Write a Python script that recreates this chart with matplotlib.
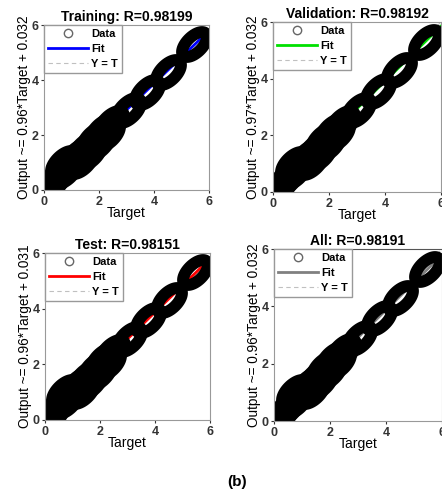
import numpy as np
import matplotlib.pyplot as plt
from matplotlib.path import Path
from matplotlib.lines import Line2D

plt.rcParams['font.family'] = ['Liberation Sans', 'DejaVu Sans']
plt.rcParams['font.weight'] = 'bold'

# (all four panels look the same)
target = [0.05, 0.25, 0.45, 0.7, 0.75, 1.0, 1.2, 1.35, 1.5, 1.65, 1.8, 1.95,
          2.1, 2.3, 2.45,
          3.05, 3.75, 4.5, 5.45]
output = [0.05, 0.22, 0.45, 1.0, 0.7, 0.95, 1.25, 1.05, 1.5, 1.35, 1.85, 1.7,
          2.15, 2.05, 2.45,
          2.9, 3.58, 4.3, 5.3]

titles = ['Training: R=0.98199', 'Validation: R=0.98192', 'Test: R=0.98151', 'All: R=0.98191']
slopes = [0.96, 0.97, 0.96, 0.96]
offsets = [0.032, 0.032, 0.031, 0.032]
fit_colors = ['#0000ff', '#00e000', '#ff0000', '#808080']
ticks = [0, 2, 4, 6]

# the overlapping circles in the picture merge into links tilted along y = x
th = np.linspace(0, 2 * np.pi, 60)
ex = np.cos(th) * np.cos(np.pi / 4) - 0.5 * np.sin(th) * np.sin(np.pi / 4)
ey = np.cos(th) * np.sin(np.pi / 4) + 0.5 * np.sin(th) * np.cos(np.pi / 4)
link = Path(np.column_stack([ex, ey]), closed=True)

W, H = 442, 495
fig = plt.figure(figsize=(W / 100, H / 100), dpi=100)

# axes boxes in pixels: left, top, right, bottom
boxes = [(44, 25, 209, 190), (273, 22, 441, 192), (45, 253, 210, 420), (274, 249, 442, 421)]

for i in range(4):
    l, t, r, b = boxes[i]
    ax = fig.add_axes([l / W, 1 - b / H, (r - l) / W, (b - t) / H])
    yt, = ax.plot([0, 6], [0, 6], linestyle=(0, (4, 3)), color='#c0c0c0', lw=0.8)
    fit, = ax.plot([0, 6], [offsets[i], slopes[i] * 6 + offsets[i]], color=fit_colors[i], lw=2)
    ax.plot(target, output, linestyle='none', marker=link, markersize=18,
            markerfacecolor='none', markeredgecolor='black', markeredgewidth=8.5)
    ax.set_xlim(0, 6)
    ax.set_ylim(0, 6)
    ax.set_xticks(ticks)
    ax.set_yticks(ticks)
    ax.tick_params(labelsize=9, length=2, colors='#333333', pad=2)
    for s in ax.spines.values():
        s.set_color('#999999')
    if i == 3:
        ax.spines['top'].set_color('#555555')
    ax.set_title(titles[i], fontsize=10, fontweight='bold', pad=3)
    ax.set_xlabel('Target', fontsize=10, labelpad=-1)
    ax.set_ylabel('Output ~= %.2f*Target + %.3f' % (slopes[i], offsets[i]), fontsize=9.8, labelpad=0)
    data_h = Line2D([], [], linestyle='none', marker='o', markersize=6,
                    markerfacecolor='none', markeredgecolor='#666666', markeredgewidth=1)
    leg = ax.legend([data_h, fit, yt], ['Data', 'Fit', 'Y = T'], loc='upper left',
                    fontsize=8, frameon=True, fancybox=False, borderpad=0.35,
                    handlelength=3.6, labelspacing=0.45, borderaxespad=0,
                    handletextpad=0.3)
    leg.get_frame().set_edgecolor('#999999')
    leg.get_frame().set_alpha(1)

fig.text(237 / W, 1 - 482 / H, '(b)', fontsize=11, fontweight='bold', ha='center', va='center')

fig.savefig('out.png', dpi=100)
